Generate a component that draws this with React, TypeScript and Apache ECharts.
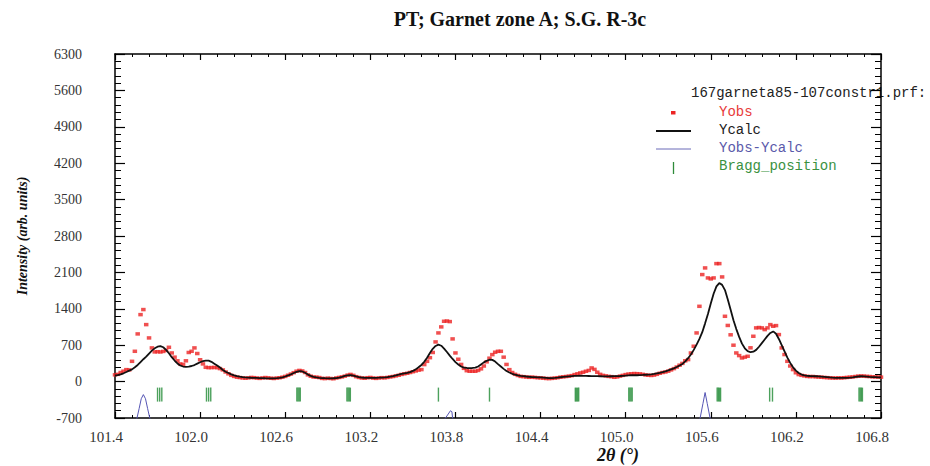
import React, { useEffect, useRef } from "react";
import * as echarts from "echarts";

const TITLE = "PT; Garnet zone A; S.G. R-3c";
const Y_NAME = "Intensity (arb. units)";
const X_NAME = "2θ (°)";
const LEGEND_FILE = "167garneta85-107constr1.prf:";
const LEGEND_NAMES = ["Yobs", "Ycalc", "Yobs-Ycalc", "Bragg_position"];

// sampling grid of the pattern (2θ)
const X_START = 101.4;
const X_STEP = 0.02;

// observed intensity, one value per grid point 101.40 … 106.80
const OBS = [
  130, 140, 175, 200, 230, 225, 390, 583, 917, 1288,
  1385, 1096, 840, 648, 571, 575, 570, 580, 600, 660,
  551, 470, 400, 340, 330, 400, 560, 583, 648, 540,
  420, 340, 275, 268, 270, 272, 268, 250, 225, 185,
  150, 120, 100, 85, 78, 70, 65, 72, 80, 76,
  68, 62, 70, 78, 72, 64, 60, 68, 74, 85,
  100, 122, 145, 172, 200, 215, 205, 175, 130, 104,
  88, 85, 78, 62, 58, 66, 60, 55, 70, 80,
  90, 105, 125, 138, 120, 95, 80, 70, 64, 75,
  80, 68, 62, 70, 76, 72, 80, 90, 98, 110,
  122, 138, 150, 160, 175, 190, 205, 220, 231, 327,
  390, 460, 560, 763, 936, 1052, 1160, 1165, 1154, 821,
  551, 430, 330, 255, 210, 199, 200, 199, 215, 245,
  300, 380, 450, 519, 565, 583, 583, 470, 330, 230,
  175, 140, 118, 100, 95, 88, 82, 86, 80, 75,
  72, 66, 60, 58, 62, 68, 75, 85, 92, 98,
  105, 115, 135, 150, 167, 180, 199, 215, 263, 235,
  180, 140, 120, 110, 100, 95, 83, 90, 105, 120,
  135, 145, 150, 155, 152, 148, 140, 128, 122, 118,
  125, 140, 160, 175, 185, 200, 225, 250, 280, 315,
  350, 400, 423, 550, 680, 936, 1448, 2058, 2186, 1994,
  1975, 1994, 2269, 2269, 2013, 1256, 1080, 900, 700, 551,
  500, 455, 470, 487, 650, 872, 1033, 1040, 1033, 1000,
  1033, 1096, 1064, 1077, 904, 648, 520, 390, 300, 231,
  170, 135, 120, 110, 100, 96, 98, 92, 88, 84,
  80, 76, 72, 70, 68, 72, 70, 75, 80, 85,
  90, 98, 105, 108, 106, 100, 98, 92, 90, 88,
  86,
];

// calculated intensity on the same grid
const CALC = [
  115, 125, 140, 160, 185, 210, 235, 275, 320, 375,
  430, 480, 540, 595, 640, 672, 682, 660, 610, 545,
  470, 405, 350, 310, 290, 283, 288, 300, 318, 345,
  372, 395, 405, 402, 380, 345, 310, 270, 225, 190,
  165, 140, 120, 105, 95, 88, 82, 78, 74, 72,
  70, 68, 66, 64, 63, 62, 63, 66, 72, 82,
  98, 118, 140, 165, 188, 200, 195, 170, 135, 110,
  92, 80, 72, 68, 65, 63, 62, 64, 68, 78,
  92, 108, 120, 125, 115, 100, 86, 78, 74, 72,
  71, 72, 73, 75, 78, 82, 88, 95, 105, 118,
  132, 148, 158, 168, 182, 205, 235, 275, 320, 380,
  460, 550, 630, 685, 710, 690, 635, 570, 500, 435,
  375, 330, 290, 268, 262, 260, 262, 268, 290, 330,
  370, 400, 420, 418, 385, 335, 290, 245, 205, 175,
  150, 132, 120, 112, 105, 98, 93, 88, 85, 82,
  80, 76, 72, 68, 66, 70, 76, 84, 90, 95,
  100, 105, 110, 112, 113, 112, 110, 108, 106, 105,
  104, 103, 102, 102, 102, 103, 104, 106, 108, 112,
  116, 120, 122, 122, 122, 125, 128, 132, 135, 140,
  148, 158, 168, 182, 198, 215, 235, 255, 280, 310,
  340, 390, 450, 520, 610, 710, 820, 950, 1120, 1300,
  1500, 1690, 1830, 1895, 1860, 1760, 1580, 1380, 1180, 1010,
  860, 730, 640, 585, 565, 575, 610, 670, 740, 810,
  880, 935, 965, 920, 820, 700, 580, 460, 360, 275,
  210, 165, 135, 120, 112, 108, 105, 103, 100, 95,
  90, 85, 80, 76, 73, 71, 70, 70, 72, 76,
  82, 90, 98, 103, 100, 95, 90, 87, 85, 83,
  82,
];

// difference curve as plotted (offset; mostly below the visible range)
const DIFF_X = [
  101.4, 101.54, 101.555, 101.57, 101.585, 101.6, 101.615, 101.63, 101.645, 101.66,
  103.7, 103.73, 103.765, 103.775, 103.78, 103.8,
  105.5, 105.525, 105.545, 105.56, 105.575, 105.595, 105.61, 106.8,
];
const DIFF_Y = [
  -800, -800, -700, -520, -330, -250, -330, -520, -700, -800,
  -800, -700, -560, -580, -700, -800,
  -800, -700, -420, -210, -420, -700, -800, -800,
];

// Bragg reflection positions
const BRAGG = [
  101.7, 101.715, 101.73,
  102.045, 102.06, 102.075,
  102.682, 102.69, 102.698, 102.706,
  103.035, 103.043, 103.051, 103.059,
  103.68,
  104.04,
  104.645, 104.653, 104.661, 104.669,
  105.022, 105.03, 105.038, 105.046,
  105.645, 105.653, 105.661, 105.669,
  106.015, 106.035,
  106.645, 106.653, 106.661, 106.669,
];
const BRAGG_LEVEL = -250;

const SERIF = "'Liberation Serif','Times New Roman',serif";
const MONO = "'Liberation Mono','DejaVu Sans Mono',monospace";

export default function App() {
  const ref = useRef<HTMLDivElement>(null);

  useEffect(() => {
    const chart = echarts.init(ref.current!, null, { renderer: "svg" });

    const obsData = OBS.map((v, i) => [X_START + i * X_STEP, v]);
    const calcData = CALC.map((v, i) => [X_START + i * X_STEP, v]);
    const diffData = DIFF_X.map((x, i) => [x, DIFF_Y[i]]);
    const braggData = BRAGG.map((x) => [x, BRAGG_LEVEL]);

    const axisLine = { show: true, onZero: false, lineStyle: { color: "#000", width: 1.5 } };
    const xTick = { show: true, inside: true, length: 6, lineStyle: { color: "#000", width: 1.2 } };
    const xMinor = { show: true, splitNumber: 5, length: 3, lineStyle: { color: "#000", width: 1 } };
    const yTick = { show: true, inside: true, length: 10, lineStyle: { color: "#000", width: 1.2 } };
    const yMinor = { show: true, splitNumber: 5, length: 6, lineStyle: { color: "#000", width: 1 } };

    const xBase = {
      type: "value",
      min: 101.4,
      max: 106.8,
      interval: 0.6,
      axisLine,
      axisTick: xTick,
      minorTick: xMinor,
      splitLine: { show: false },
      minorSplitLine: { show: false },
    };
    const yBase = {
      type: "value",
      min: -700,
      max: 6300,
      interval: 700,
      axisLine,
      axisTick: yTick,
      minorTick: yMinor,
      splitLine: { show: false },
      minorSplitLine: { show: false },
    };

    const legendX = 719;
    const legendTextStyle = (text: string, fill: string) => ({
      text,
      fill,
      font: `14px ${MONO}`,
      textAlign: "left",
      align: "left",
      textVerticalAlign: "middle",
      verticalAlign: "middle",
    });

    const option = {
      animation: false,
      backgroundColor: "#fff",
      grid: { left: 115, right: 49, top: 54, bottom: 48, containLabel: false },
      xAxis: [
        {
          ...xBase,
          position: "bottom",
          axisLabel: {
            show: true,
            showMinLabel: true,
            showMaxLabel: true,
            formatter: (v: number) => v.toFixed(1),
            fontFamily: SERIF,
            fontSize: 15,
            color: "#333",
            margin: 11,
            padding: [0, 18, 0, 0],
          },
        },
        { ...xBase, position: "top", axisLabel: { show: false } },
      ],
      yAxis: [
        {
          ...yBase,
          position: "left",
          axisLabel: {
            show: true,
            showMinLabel: true,
            showMaxLabel: true,
            formatter: (v: number) => String(Math.round(v)),
            fontFamily: SERIF,
            fontSize: 14,
            color: "#333",
            margin: 33,
          },
        },
        { ...yBase, position: "right", axisLabel: { show: false } },
      ],
      series: [
        {
          name: LEGEND_NAMES[0],
          type: "scatter",
          data: obsData,
          symbol: "rect",
          symbolSize: [4.5, 3.5],
          itemStyle: { color: "#ec2424" },
          silent: true,
          z: 2,
        },
        {
          name: LEGEND_NAMES[1],
          type: "line",
          data: calcData,
          showSymbol: false,
          lineStyle: { color: "#111", width: 1.8 },
          silent: true,
          z: 3,
        },
        {
          name: LEGEND_NAMES[2],
          type: "line",
          data: diffData,
          showSymbol: false,
          clip: true,
          lineStyle: { color: "#5555b4", width: 1 },
          silent: true,
          z: 3,
        },
        {
          name: LEGEND_NAMES[3],
          type: "scatter",
          data: braggData,
          symbol: "rect",
          symbolSize: [1.4, 14],
          itemStyle: { color: "#1f8a33" },
          silent: true,
          z: 3,
        },
      ],
      graphic: [
        {
          type: "text",
          x: 520,
          y: 19,
          style: {
            text: TITLE,
            fill: "#111",
            font: `bold 20px ${SERIF}`,
            textAlign: "center",
            align: "center",
            textVerticalAlign: "middle",
            verticalAlign: "middle",
          },
        },
        {
          type: "text",
          x: 22,
          y: 236,
          rotation: Math.PI / 2,
          style: {
            text: Y_NAME,
            fill: "#111",
            font: `italic bold 14px ${SERIF}`,
            textAlign: "center",
            align: "center",
            textVerticalAlign: "middle",
            verticalAlign: "middle",
          },
        },
        {
          type: "text",
          x: 618,
          y: 455,
          style: {
            text: X_NAME,
            fill: "#111",
            font: `italic bold 18px ${SERIF}`,
            textAlign: "center",
            align: "center",
            textVerticalAlign: "middle",
            verticalAlign: "middle",
          },
        },
        { type: "text", x: 691, y: 93, style: legendTextStyle(LEGEND_FILE, "#222") },
        { type: "rect", shape: { x: 671, y: 111, width: 4.5, height: 3.5 }, style: { fill: "#ec2424" } },
        { type: "text", x: legendX, y: 112, style: legendTextStyle(LEGEND_NAMES[0], "#e83a3a") },
        { type: "line", shape: { x1: 656, y1: 131, x2: 691, y2: 131 }, style: { stroke: "#111", lineWidth: 2 } },
        { type: "text", x: legendX, y: 130, style: legendTextStyle(LEGEND_NAMES[1], "#222") },
        { type: "line", shape: { x1: 656, y1: 149, x2: 691, y2: 149 }, style: { stroke: "#6a6ab8", lineWidth: 1 } },
        { type: "text", x: legendX, y: 148, style: legendTextStyle(LEGEND_NAMES[2], "#5a5aaa") },
        { type: "line", shape: { x1: 673.5, y1: 162, x2: 673.5, y2: 174 }, style: { stroke: "#2e8b3a", lineWidth: 1.3 } },
        { type: "text", x: legendX, y: 166, style: legendTextStyle(LEGEND_NAMES[3], "#3a913f") },
      ],
    };

    chart.setOption(option as any);
    return () => chart.dispose();
  }, []);

  return (
    <div
      ref={ref}
      style={{ position: "fixed", left: 0, top: 0, width: 930, height: 466, background: "#fff" }}
    />
  );
}
